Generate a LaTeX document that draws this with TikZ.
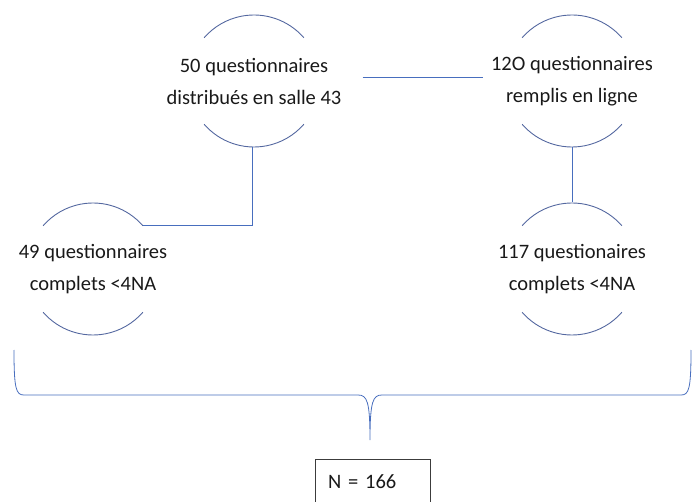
\documentclass[tikz,border=0pt]{standalone}
\usepackage{fontspec}
\setmainfont{Carlito}
\definecolor{linkblue}{RGB}{72,110,190}
\definecolor{arcblue}{RGB}{84,104,160}
\definecolor{boxgrey}{RGB}{60,60,60}
\begin{document}
\begin{tikzpicture}[x=1pt,y=1pt,
    every node/.style={font=\fontsize{20.5}{32}\selectfont, text=black!90},
    group/.style={align=center, inner sep=0pt},
    link/.style={linkblue, line width=0.8pt},
    arcline/.style={arcblue, line width=0.9pt},
    total/.style={draw=boxgrey, line width=0.8pt, minimum width=115pt, minimum height=46pt,
        text width=89pt, align=left, inner sep=0pt}]

            \useasboundingbox (0,0) rectangle (693,501);

            % Groups of questionnaires
            \node[group] (salle) at (254,420) {50 questionnaires\\distribués en salle 43};
            \node[group] (enligne) at (572,420) {12O questionnaires\\remplis en ligne};
            \node[group] (complets49) at (93,232) {49 questionnaires\\complets <4NA};
            \node[group] (complets117) at (572,232) {117 questionaires\\complets <4NA};

            % Arcs round each group
            \foreach \n in {salle,enligne,complets49,complets117} {
                \draw[arcline] ([shift={(41:66)}]\n.center) arc[start angle=41, end angle=139, radius=66];
                \draw[arcline] ([shift={(221:66)}]\n.center) arc[start angle=221, end angle=319, radius=66];
            }

            % Links
            \draw[link] ([xshift=21pt,yshift=4pt]salle.east) -- ([xshift=-8pt,yshift=4pt]enligne.west);
            \draw[link] ([shift={(-2,-66)}]salle.center) |- ([shift={(41:66)}]complets49.center);
            \draw[link] ([yshift=-66pt]enligne.center) -- ([yshift=67pt]complets117.center);

            % Brace
            \coordinate (braceL) at (14,151);
            \coordinate (braceTip) at (370,61);
            \coordinate (braceR) at (691,151);
            \draw[link] (braceL) .. controls (14,112) and (16,106) .. (24,106) -- (358,106)
                .. controls (367,106) and (370,100) .. (braceTip)
                .. controls (370,100) and (373,106) .. (382,106) -- (681,106)
                .. controls (689,106) and (691,112) .. (braceR);

            % Total
            \node[total] (somme) at (372.5,19) {N = 166};

\end{tikzpicture}
\end{document}
